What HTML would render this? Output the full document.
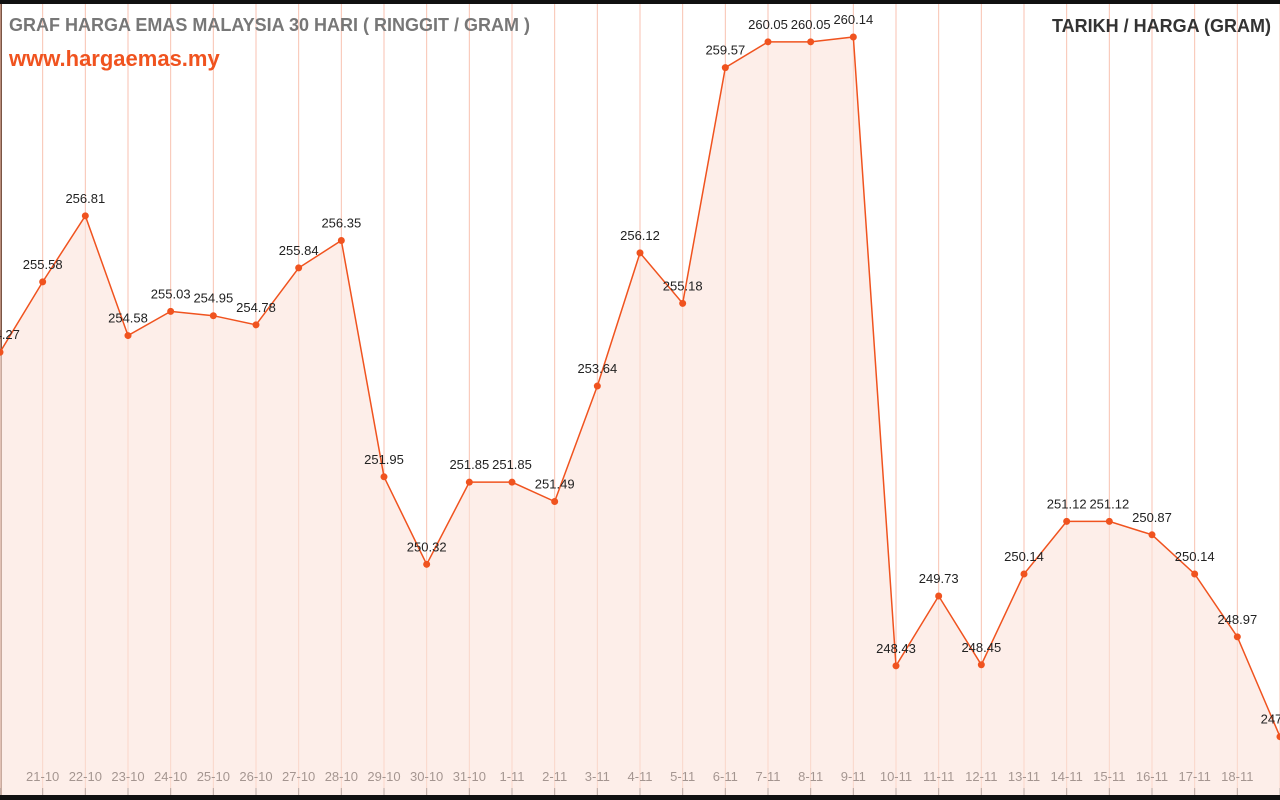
<!DOCTYPE html>
<html><head><meta charset="utf-8"><style>
html,body{margin:0;padding:0;background:#fff;}
svg{display:block;font-family:"Liberation Sans",sans-serif;}
</style></head><body>
<svg id="chart" width="1280" height="800" viewBox="0 0 1280 800">
<rect x="0" y="0" width="1280" height="4" fill="#111"/>
<rect x="0" y="4" width="2" height="792" fill="#7a5545"/>
<g id="grid"></g><g id="area"></g><g id="marks"></g>
<rect x="0" y="795" width="1280" height="5" fill="#111"/>
<text x="9" y="31" font-size="18" font-weight="bold" fill="#777">GRAF HARGA EMAS MALAYSIA 30 HARI ( RINGGIT / GRAM )</text>
<text x="9" y="66" font-size="22" font-weight="bold" fill="#f0531f">www.hargaemas.my</text>
<text x="1271" y="32" font-size="18" font-weight="bold" fill="#333" text-anchor="end">TARIKH / HARGA (GRAM)</text>
</svg>
<script>
const dates=["20-10","21-10","22-10","23-10","24-10","25-10","26-10","27-10","28-10","29-10","30-10","31-10","1-11","2-11","3-11","4-11","5-11","6-11","7-11","8-11","9-11","10-11","11-11","12-11","13-11","14-11","15-11","16-11","17-11","18-11","19-11"];
const prices=[254.27,255.58,256.81,254.58,255.03,254.95,254.78,255.84,256.35,251.95,250.32,251.85,251.85,251.49,253.64,256.12,255.18,259.57,260.05,260.05,260.14,248.43,249.73,248.45,250.14,251.12,251.12,250.87,250.14,248.97,247.11];
const NS="http://www.w3.org/2000/svg";
const step=1280/(dates.length-1);
function xs(i){return i*step;}
function ys(v){return 37+(260.14-v)*53.7;}
function mk(tag,attrs,parent){const e=document.createElementNS(NS,tag);for(const k in attrs)e.setAttribute(k,attrs[k]);parent.appendChild(e);return e;}
const grid=document.getElementById('grid'),area=document.getElementById('area'),marks=document.getElementById('marks');
dates.forEach((d,i)=>{
  const x=xs(i);
  const gl=mk('line',{x1:x,y1:4,x2:x,y2:795,stroke:'#f8c2b0','stroke-width':1},grid);
  
  
  const tk=mk('line',{x1:x,y1:788,x2:x,y2:795,stroke:'#555','stroke-width':1},grid);
  
  
  if(i>0&&i<dates.length-1){
    const t=mk('text',{x:x,y:781,'font-size':13,fill:'#222','text-anchor':'middle'},grid);
    t.textContent=d;
    
    
  }
});
let pts=prices.map((v,i)=>xs(i)+','+ys(v));
const poly=mk('polygon',{points:'0,795 '+pts.join(' ')+' 1280,795',fill:'#fbe3da','fill-opacity':0.6},area);


const line=mk('polyline',{points:pts.join(' '),fill:'none',stroke:'#f0531f','stroke-width':1.5},marks);


prices.forEach((v,i)=>{
  const c=mk('circle',{cx:xs(i),cy:ys(v),r:3.5,fill:'#f0531f'},marks);
  
  
  const t=mk('text',{x:xs(i),y:ys(v)-13,'font-size':13,fill:'#222','text-anchor':'middle'},marks);
  t.textContent=v.toFixed(2);
  
  
});
</script>
</body></html>
